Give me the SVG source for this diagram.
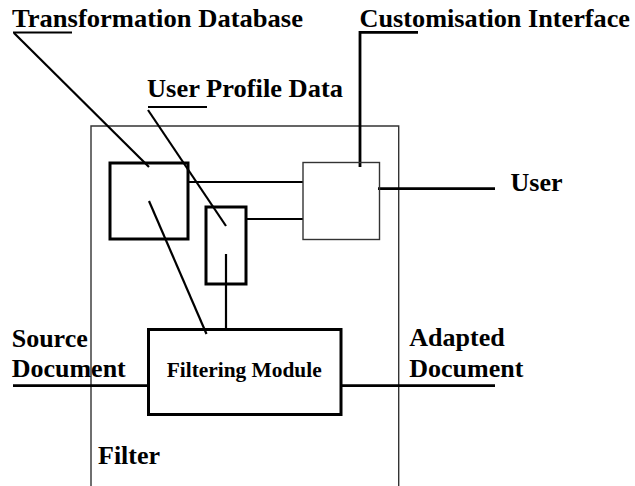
<svg xmlns="http://www.w3.org/2000/svg" width="635" height="486" viewBox="0 0 635 486">
<style>
text{font-family:"Liberation Serif","Times New Roman",serif;font-weight:bold;fill:#000}
.lbl{font-size:26px}
.thick{fill:none;stroke:#000;stroke-width:3}
.thin{fill:none;stroke:#333;stroke-width:1.4}
.ln{stroke:#000;stroke-width:2.2;fill:none}
.lnt{stroke:#000;stroke-width:2.8;fill:none}
</style>
<rect width="635" height="486" fill="#fff"/>
<g id="filter">
<path class="thin" d="M91,490 V126 H398.7 V490" stroke="#444"/>
<text class="lbl" x="98" y="464">Filter</text>
</g>
<g id="connectors">
<line class="ln" x1="188" y1="182" x2="303" y2="182"/>
<line class="ln" x1="246" y1="219" x2="303" y2="219"/>
<line class="lnt" x1="378" y1="188.7" x2="495" y2="188.7"/>
<line class="ln" x1="226" y1="254" x2="226" y2="330"/>
<line class="ln" x1="149" y1="201" x2="206.5" y2="334"/>
<line class="lnt" x1="13" y1="385.7" x2="148" y2="385.7"/>
<line class="lnt" x1="341" y1="385.7" x2="495" y2="385.7"/>
<polyline class="ln" points="13,32.5 72,32.5"/>
<line class="ln" x1="14" y1="33" x2="149" y2="167"/>
<polyline class="ln" points="148,107 207,107"/>
<line class="ln" x1="148" y1="110" x2="226" y2="226"/>
<polyline class="lnt" points="418,32.3 360,32.3 360,167"/>
</g>
<g id="transformation-database">
<rect class="thick" x="110" y="163" width="78" height="76"/>
<text class="lbl" x="12" y="27" textLength="291" lengthAdjust="spacingAndGlyphs">Transformation Database</text>
</g>
<g id="user-profile-data">
<rect class="thick" x="206" y="207" width="40" height="77"/>
<text class="lbl" x="147" y="97" textLength="196" lengthAdjust="spacingAndGlyphs">User Profile Data</text>
</g>
<g id="customisation-interface">
<rect class="thin" x="303" y="162.5" width="76.5" height="77"/>
<text class="lbl" x="359.5" y="27" textLength="270.5" lengthAdjust="spacingAndGlyphs">Customisation Interface</text>
</g>
<g id="user">
<text class="lbl" x="510.5" y="190.7">User</text>
</g>
<g id="filtering-module">
<rect class="thick" x="148.5" y="329.5" width="192.5" height="85"/>
<text x="166.7" y="376.7" font-size="21" textLength="155" lengthAdjust="spacingAndGlyphs">Filtering Module</text>
</g>
<g id="source-document">
<text class="lbl" x="11.7" y="346.7">Source</text>
<text class="lbl" x="11.7" y="376.7">Document</text>
</g>
<g id="adapted-document">
<text class="lbl" x="409.3" y="346">Adapted</text>
<text class="lbl" x="409.3" y="376.7">Document</text>
</g>
</svg>
